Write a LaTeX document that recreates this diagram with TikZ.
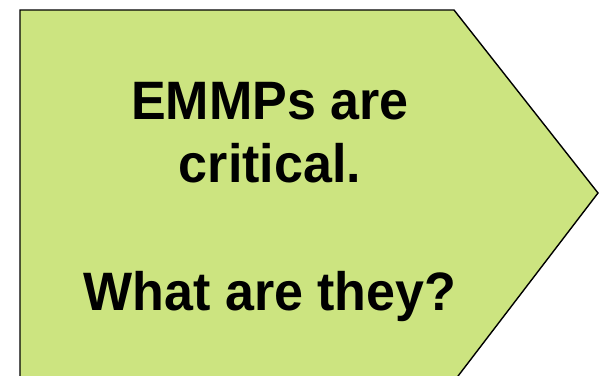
\documentclass[tikz,border=0pt]{standalone}
\usepackage{fontspec}
\setmainfont{Liberation Sans}
\definecolor{arrowgreen}{RGB}{204,228,128}
\begin{document}
\begin{tikzpicture}[x=1bp,y=-1bp,
  txt/.style={anchor=base,inner sep=0pt,font=\fontsize{52bp}{63bp}\selectfont\bfseries}]
\useasboundingbox (0,0) rectangle (601,375);
\fill[arrowgreen,draw=black,line width=1.4bp,line join=miter]
  (20,10) -- (454,10) -- (598,193) -- (455,380) -- (20,380) -- cycle;
\node[txt,yscale=1.04] (l1) at (270,119) {EMMPs are};
\node[txt,yscale=1.04] (l2) at (270,182) {critical.};
\node[txt,yscale=1.04] (l3) at (270,310) {What are they?};
\end{tikzpicture}
\end{document}
